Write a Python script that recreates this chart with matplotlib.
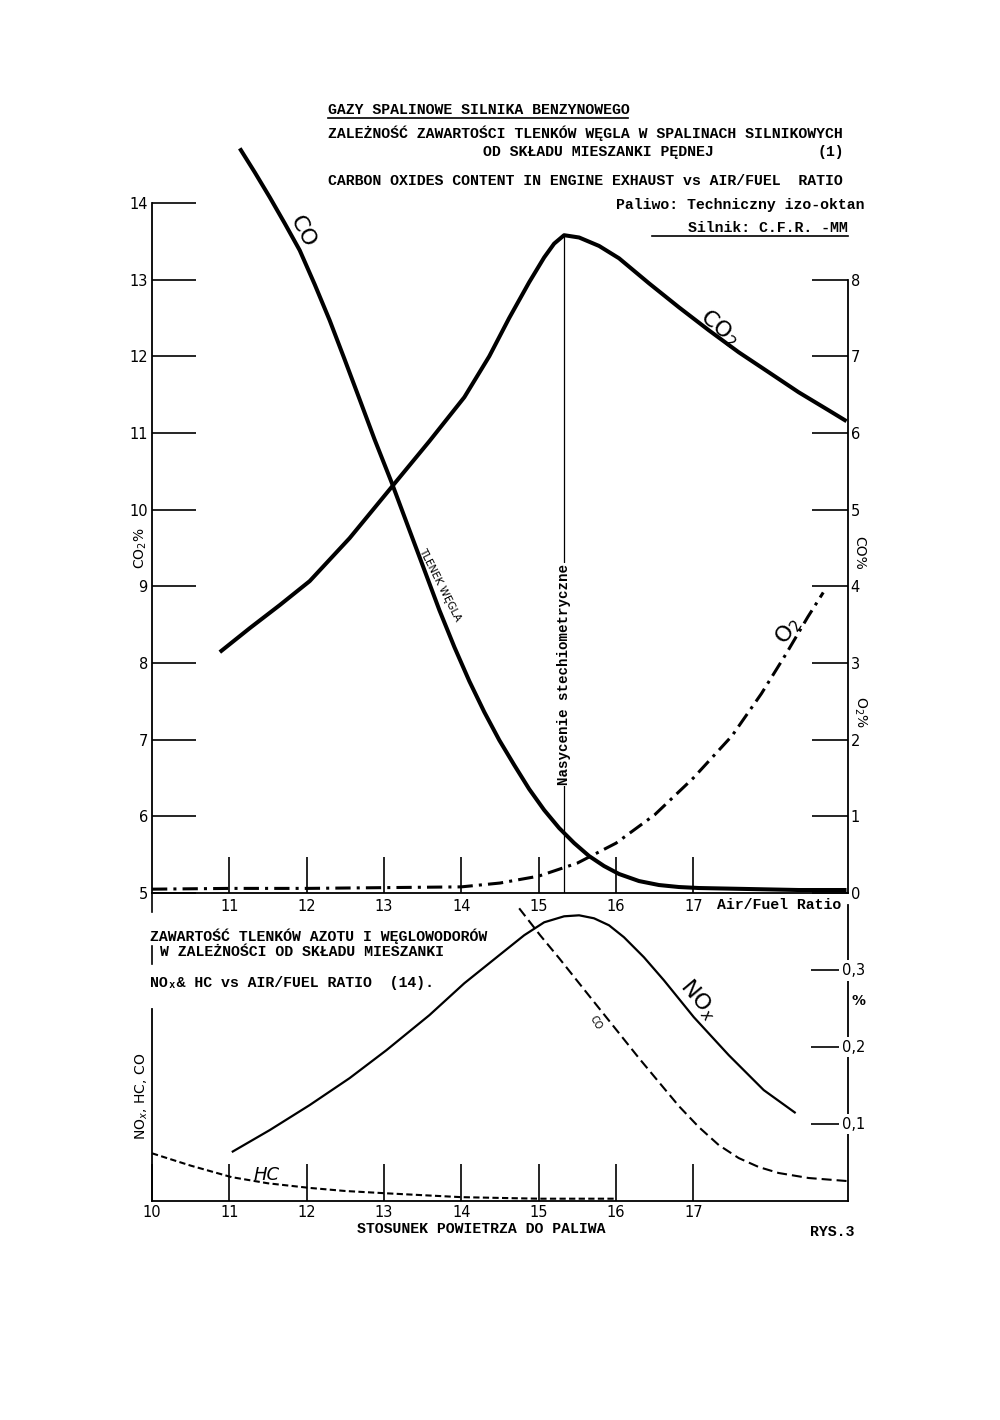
import matplotlib
matplotlib.use("Agg")
import matplotlib.pyplot as plt
from matplotlib.lines import Line2D
from matplotlib.transforms import ScaledTranslation

W, H = 1000, 1420
MONO = ["Liberation Mono", "DejaVu Sans Mono"]
SANS = ["DejaVu Sans"]

# ── upper chart: carbon oxides vs air/fuel ratio ─────────────────────────────
co2_af = [10.877, 11.265, 11.652, 12.039, 12.555, 13.097, 13.587, 14.039,
          14.361, 14.619, 14.877, 15.071, 15.200, 15.329, 15.523, 15.781,
          16.039, 16.426, 16.813, 17.200, 17.587, 17.974, 18.361, 18.748,
          18.981]
co2_pct = [8.142, 8.455, 8.755, 9.068, 9.628, 10.293, 10.893, 11.467,
           12.0, 12.5, 12.966, 13.29, 13.47, 13.58, 13.55, 13.44,
           13.279, 12.953, 12.640, 12.340, 12.053, 11.793, 11.532, 11.297,
           11.154]

co_af = [11.135, 11.329, 11.523, 11.716, 11.910, 12.103, 12.297, 12.490,
         12.684, 12.877, 13.097, 13.329, 13.523, 13.716, 13.910, 14.103,
         14.297, 14.490, 14.684, 14.877, 15.071, 15.265, 15.458, 15.652,
         15.845, 16.039, 16.297, 16.555, 16.813, 17.071, 17.716, 18.361,
         18.981]
co_pct = [9.713, 9.400, 9.074, 8.735, 8.383, 7.940, 7.471, 6.962, 6.441,
          5.919, 5.359, 4.733, 4.211, 3.690, 3.208, 2.764, 2.360, 1.995,
          1.669, 1.356, 1.082, 0.847, 0.652, 0.482, 0.352, 0.248, 0.156,
          0.104, 0.078, 0.065, 0.052, 0.039, 0.039]

o2_af = [10.0, 11.0, 12.0, 13.0, 14.0, 14.5, 15.0, 15.5, 16.0, 16.5,
         17.0, 17.5, 17.88, 18.2, 18.48, 18.68]
o2_pct = [0.05, 0.06, 0.06, 0.07, 0.08, 0.13, 0.22, 0.39, 0.65, 1.02,
          1.5, 2.05, 2.6, 3.12, 3.6, 3.92]

STOICH = 15.33

# ── lower chart: NOx, HC, CO vs air/fuel ratio ───────────────────────────────
nox_af = [11.032, 11.523, 12.039, 12.555, 13.032, 13.587, 14.039, 14.490,
          14.813, 15.071, 15.329, 15.523, 15.716, 15.910, 16.103, 16.361,
          16.619, 17.006, 17.458, 17.910, 18.323]
nox_pct = [0.0636, 0.0922, 0.1247, 0.1597, 0.1961, 0.2416, 0.2831, 0.3195,
           0.3455, 0.3623, 0.3701, 0.3714, 0.3675, 0.3584, 0.3429, 0.3169,
           0.2870, 0.2390, 0.1896, 0.1442, 0.1143]

cob_af = [14.748, 15.019, 15.265, 15.523, 15.781, 16.039, 16.297, 16.555,
          16.813, 17.071, 17.329, 17.587, 17.845, 18.103, 18.490, 18.981]
cob_pct = [0.3805, 0.3455, 0.3156, 0.2831, 0.2506, 0.2182, 0.1857, 0.1545,
           0.1234, 0.0961, 0.0727, 0.0558, 0.0442, 0.0364, 0.0299, 0.0260]

hc_af = [10.0, 10.5, 11.03, 11.5, 12.04, 12.5, 13.03, 14.0, 15.0, 16.0]
hc_pct = [0.062, 0.046, 0.031, 0.023, 0.017, 0.013, 0.010, 0.005, 0.003,
          0.003]

left_ticks = list(range(5, 15))
right_ticks = list(range(0, 9))
x_ticks_top = list(range(11, 18))
x_ticks_bot = list(range(10, 18))
right_ticks_bot = [0.1, 0.2, 0.3]


def fx(x):
    return x / W


def fy(y):
    return 1 - y / H


fig = plt.figure(figsize=(W / 100, H / 100), dpi=100)
fig.patch.set_facecolor("white")


def ftxt(x, y, s, **kw):
    kw.setdefault("family", MONO)
    kw.setdefault("fontsize", 10.7)
    kw.setdefault("fontweight", "bold")
    kw.setdefault("va", "center")
    fig.text(fx(x), fy(y), s, **kw)


def fline(x0, x1, y0, y1, lw=1.2):
    fig.add_artist(Line2D([fx(x0), fx(x1)], [fy(y0), fy(y1)], color="black",
                          lw=lw, transform=fig.transFigure))


LINE = dict(color="black", solid_joinstyle="round", solid_capstyle="butt")

# upper axes
ax = fig.add_axes([fx(152), fy(893), fx(848) - fx(152), fy(203) - fy(893)])
ax.set_xlim(10, 19)
ax.set_ylim(5, 14)
ax2 = ax.twinx()
ax2.set_ylim(0, 9)

for a in (ax, ax2):
    a.set_facecolor("none")
    a.spines["top"].set_visible(False)
ax.spines["right"].set_visible(False)
ax2.spines["left"].set_visible(False)
ax2.spines["bottom"].set_visible(False)
ax2.spines["right"].set_bounds(0, 8)
for sp in ("left", "bottom"):
    ax.spines[sp].set_linewidth(1.3)
ax2.spines["right"].set_linewidth(1.3)

ax.set_xticks(x_ticks_top)
ax.set_xticklabels([str(t) for t in x_ticks_top])
ax.set_yticks(left_ticks)
ax.set_yticklabels([str(t) for t in left_ticks])
ax.tick_params(axis="x", direction="in", length=26, width=1.2, pad=4,
               labelsize=10.5)
ax.tick_params(axis="y", direction="in", length=32, width=1.2, pad=3,
               labelsize=10.5)
ax2.set_yticks(right_ticks)
ax2.set_yticklabels([str(t) for t in right_ticks])
ax2.tick_params(axis="y", direction="in", length=26, width=1.2, pad=2,
                labelsize=10.5)

ax.plot(co2_af, co2_pct, lw=2.9, **LINE)
ax2.plot(co_af, co_pct, lw=2.9, clip_on=False, **LINE)
ax2.plot(o2_af, o2_pct, color="black", lw=2.2, dashes=(5, 2, 1, 2))
ax.plot([STOICH, STOICH], [5, max(co2_pct)], color="black", lw=0.9)

ax.text(STOICH, 7.85, "Nasycenie stechiometryczne", rotation=90,
        ha="center", va="center", family=MONO, fontsize=10.2,
        fontweight="bold",
        bbox=dict(facecolor="white", edgecolor="none", pad=1.0))

ax.text(11.95, 13.62, "CO", rotation=-62, ha="center", va="center",
        family=SANS, fontsize=16)
ax.text(13.72, 9.02, "TLENEK WĘGLA", rotation=-63, ha="center", va="center",
        family=SANS, fontsize=7.5)
ax.text(17.33, 12.37, "CO$_2$", rotation=-40, ha="center", va="center",
        fontsize=16)
ax2.text(18.23, 3.42, "O$_2$", rotation=55, ha="center", va="center",
         fontsize=16)
ax.text(17.3, 5, "Air/Fuel Ratio", ha="left", va="top", family=MONO,
        fontsize=10.7, fontweight="bold",
        transform=ax.transData + ScaledTranslation(0, -5 / 100,
                                                   fig.dpi_scale_trans))

ax.text(-0.016, 0.5, "CO$_2$%", rotation=90, ha="center", va="center",
        transform=ax.transAxes, fontsize=10)
ax2.text(1.016, 4.43, "CO%", rotation=-90, ha="center", va="center",
         transform=ax2.get_yaxis_transform(), fontsize=10)
ax2.text(1.018, 2.36, "O$_2$%", rotation=-90, ha="center", va="center",
         transform=ax2.get_yaxis_transform(), fontsize=10)

# lower axes
ax3 = fig.add_axes([fx(152), fy(1201), fx(848) - fx(152), fy(901) - fy(1201)])
ax3.set_facecolor("none")
ax3.set_xlim(10, 19)
ax3.set_ylim(0, 0.39)
ax3.spines["top"].set_visible(False)
ax3.spines["left"].set_bounds(0, 0.25)
ax3.spines["right"].set_bounds(0, 0.385)
for sp in ("left", "right", "bottom"):
    ax3.spines[sp].set_linewidth(1.3)
ax3.set_xticks(x_ticks_bot)
ax3.set_xticklabels([str(t) for t in x_ticks_bot])
ax3.tick_params(axis="x", direction="in", length=27, width=1.2, pad=3,
                labelsize=10.5)
ax3.yaxis.tick_right()
ax3.set_yticks(right_ticks_bot)
ax3.tick_params(axis="y", direction="in", length=27, width=1.2,
                labelright=False)
for v in right_ticks_bot:
    ax3.text(1.008, v, f"{v:.1f}".replace(".", ","), ha="center",
             va="center", transform=ax3.get_yaxis_transform(), fontsize=10.5,
             bbox=dict(facecolor="white", edgecolor="none", pad=2.0))
ax3.text(1.015, 0.26, "%", ha="center", va="center",
         transform=ax3.get_yaxis_transform(), fontsize=10, fontweight="bold",
         bbox=dict(facecolor="white", edgecolor="none", pad=1.0))

ax3.plot(nox_af, nox_pct, lw=1.6, **LINE)
ax3.plot(cob_af, cob_pct, color="black", lw=1.5, dashes=(4.8, 2.4))
ax3.plot(hc_af, hc_pct, color="black", lw=1.5, dashes=(3, 1.6))

ax3.text(17.07, 0.261, "NO$_x$", rotation=-50, ha="center", va="center",
         fontsize=16)
ax3.text(15.74, 0.232, "CO", rotation=-60, ha="center", va="center",
         family=SANS, fontsize=7)
ax3.text(11.48, 0.034, "HC", ha="center", va="center", family=SANS,
         fontsize=13, style="italic")
ax3.text(-0.014, 0.35, "NO$_x$, HC, CO", rotation=90, ha="center",
         va="center", transform=ax3.transAxes, fontsize=10)

# headings
ftxt(328, 110, "GAZY SPALINOWE SILNIKA BENZYNOWEGO")
fline(328, 628, 118, 118)
ftxt(328, 133, "ZALEŻNOŚĆ ZAWARTOŚCI TLENKÓW WĘGLA W SPALINACH SILNIKOWYCH")
ftxt(483, 152, "OD SKŁADU MIESZANKI PĘDNEJ")
ftxt(818, 152, "(1)")
ftxt(328, 181, "CARBON OXIDES CONTENT IN ENGINE EXHAUST vs AIR/FUEL  RATIO")
ftxt(865, 205, "Paliwo: Techniczny izo-oktan", ha="right")
ftxt(848, 228, "Silnik: C.F.R. -MM", ha="right")
fline(652, 848, 236, 236)

ftxt(150, 936, "ZAWARTOŚĆ TLENKÓW AZOTU I WĘGLOWODORÓW")
ftxt(160, 952, "W ZALEŻNOŚCI OD SKŁADU MIESZANKI")
ftxt(150, 983, "NOₓ& HC vs AIR/FUEL RATIO  (14).")
fline(152, 152, 893, 912)
fline(152, 152, 946, 964)

ftxt(481, 1229, "STOSUNEK POWIETRZA DO PALIWA", ha="center")
ftxt(810, 1232, "RYS.3")

fig.savefig("out.png", dpi=100, facecolor="white")
